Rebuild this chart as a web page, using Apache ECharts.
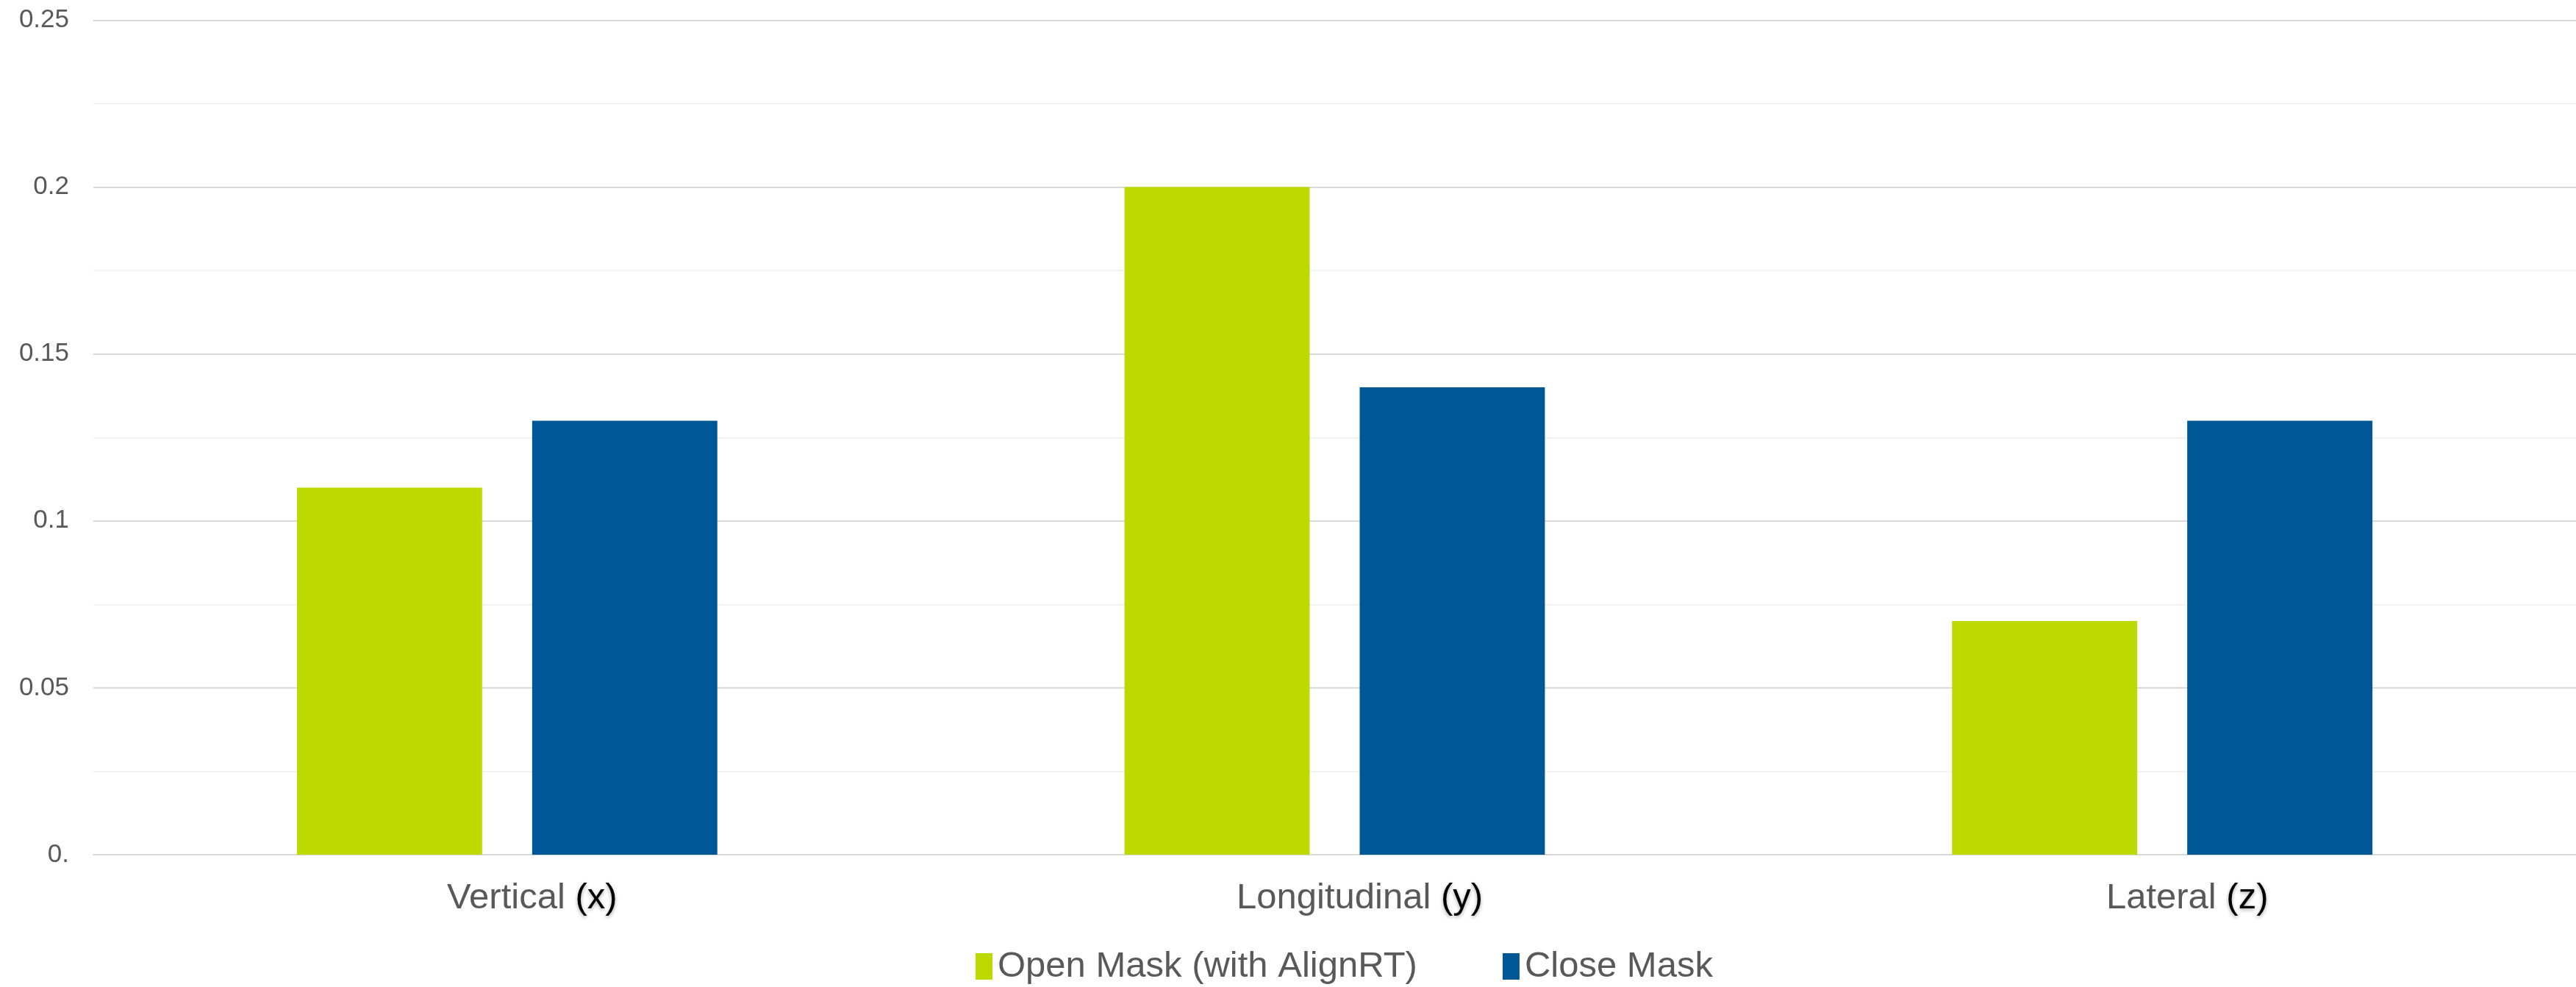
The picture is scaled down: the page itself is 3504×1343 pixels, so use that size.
<!DOCTYPE html>
<html>
<head>
<meta charset="utf-8">
<style>
  html, body { margin: 0; padding: 0; background: #ffffff; }
  #chart { width: 3504px; height: 1343px; }
</style>
<script src="https://cdn.jsdelivr.net/npm/echarts@6/dist/echarts.min.js"></script>
</head>
<body>
<div id="chart"></div>
<script>
// ---- data ----
const categoryNames = ['Vertical', 'Longitudinal', 'Lateral'];
const categoryAxes = ['(x)', '(y)', '(z)'];
const seriesNames = ['Open Mask (with AlignRT)', 'Close Mask'];
const openMaskValues = [0.11, 0.20, 0.07];
const closeMaskValues = [0.13, 0.14, 0.13];
const yTickLabels = ['0.', '0.05', '0.1', '0.15', '0.2', '0.25'];

const FONT = '"Liberation Sans", Arial, sans-serif';
const GREEN = '#bdda00';
const BLUE = '#005795';
const TEXT = '#595959';

const categories = categoryNames.map((n, i) => n + '|' + categoryAxes[i]);

const chart = echarts.init(document.getElementById('chart'), null, { renderer: 'canvas' });
chart.setOption({
  animation: false,
  backgroundColor: '#ffffff',
  textStyle: { fontFamily: FONT },
  grid: {
    left: 127, right: 0, top: 27.5, bottom: 180,
    containLabel: false,
    outerBoundsMode: 'none'
  },
  legend: {
    data: seriesNames,
    left: 1322,
    top: 1285,
    icon: 'rect',
    itemWidth: 23,
    itemHeight: 36,
    itemGap: 116,
    textStyle: { fontFamily: FONT, fontSize: 49, color: TEXT, lineHeight: 50, padding: [0, 0, 0, 2] }
  },
  xAxis: {
    type: 'category',
    data: categories,
    axisLine: { show: true, lineStyle: { color: '#d9d9d9', width: 2 } },
    axisTick: { show: false },
    splitLine: { show: false },
    axisLabel: {
      margin: 35,
      padding: [0, 0, 0, 68],
      fontFamily: FONT,
      fontSize: 49,
      formatter: function (v) {
        const parts = v.split('|');
        return '{g|' + parts[0] + ' }{k|' + parts[1] + '}';
      },
      rich: {
        g: { fontFamily: FONT, fontSize: 49, color: TEXT },
        k: {
          fontFamily: FONT, fontSize: 49, color: '#000000',
          textShadowColor: 'rgba(0,0,0,0.35)', textShadowBlur: 5, textShadowOffsetY: 2
        }
      }
    }
  },
  yAxis: {
    type: 'value',
    min: 0,
    max: 0.25,
    interval: 0.05,
    axisLine: { show: false },
    axisTick: { show: false },
    axisLabel: {
      margin: 33,
      fontFamily: FONT,
      fontSize: 35,
      color: TEXT,
      formatter: function (v, idx) { return yTickLabels[idx]; }
    },
    splitLine: { show: true, lineStyle: { color: '#d9d9d9', width: 2 } },
    minorTick: { show: false, splitNumber: 2 },
    minorSplitLine: { show: true, lineStyle: { color: '#f2f2f2', width: 2 } }
  },
  series: [
    {
      name: seriesNames[0],
      type: 'bar',
      data: openMaskValues,
      itemStyle: { color: GREEN },
      barGap: '27%',
      barCategoryGap: '49.2%'
    },
    {
      name: seriesNames[1],
      type: 'bar',
      data: closeMaskValues,
      itemStyle: { color: BLUE },
      barGap: '27%',
      barCategoryGap: '49.2%'
    }
  ]
});
</script>
</body>
</html>
